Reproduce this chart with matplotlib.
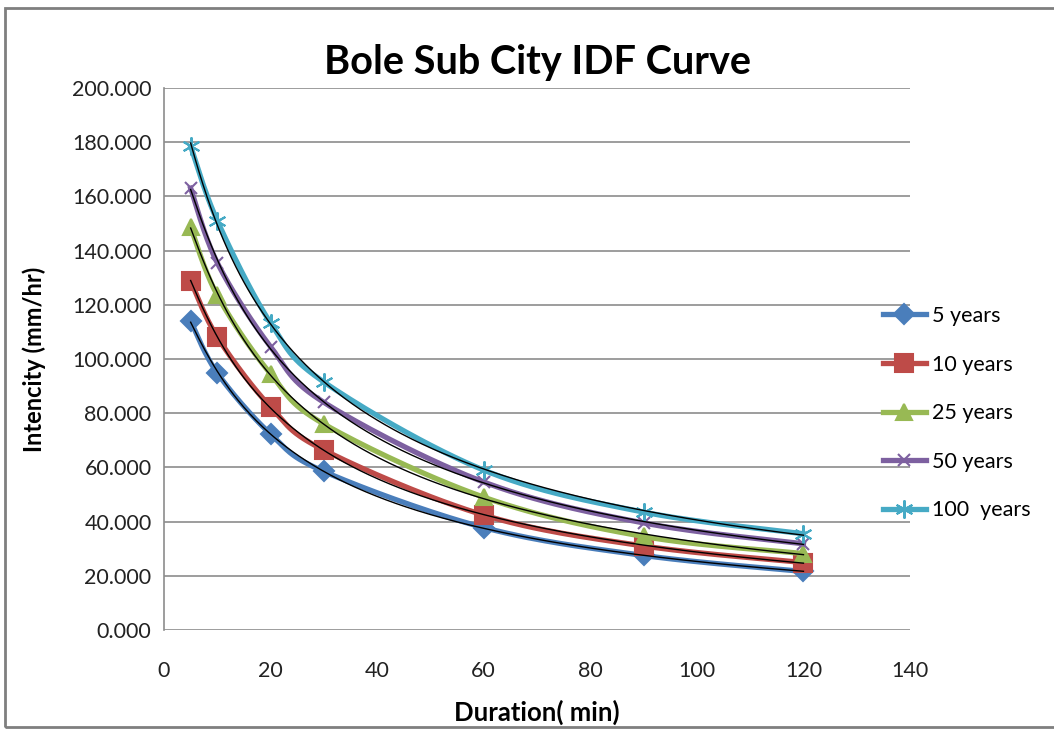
import numpy as np
import matplotlib
matplotlib.use('Agg')
import matplotlib.pyplot as plt
from matplotlib.patches import Rectangle

plt.rcParams['font.family'] = ['Lato', 'DejaVu Sans']

# Durations (min) and intensities (mm/hr)
durations = [5, 10, 20, 30, 60, 90, 120]
i_5yr = [114.0, 94.8, 72.3, 58.5, 37.8, 27.5, 21.6]
i_10yr = [128.8, 108.1, 82.3, 66.4, 42.4, 31.0, 24.9]
i_25yr = [148.7, 123.5, 94.5, 76.0, 49.0, 34.5, 28.2]
i_50yr = [163.0, 135.5, 104.5, 84.0, 54.6, 39.5, 31.8]
i_100yr = [178.5, 151.0, 113.3, 91.5, 59.0, 43.5, 35.5]

labels = ['5 years', '10 years', '25 years', '50 years', '100  years']
colors = ['#4A7EBB', '#BE4B48', '#98B954', '#7D60A0', '#46AAC5']
markers = ['D', 's', '^', 'x', (6, 2, 0)]
msizes = [10, 13, 12, 9, 13]

series = [i_5yr, i_10yr, i_25yr, i_50yr, i_100yr]


def smooth_line(xv, yv, n=30):
    """Excel-like smoothed line (Bezier segments through the points)."""
    p = np.column_stack([xv, yv]).astype(float)
    pts = []
    for i in range(len(p) - 1):
        p0 = p[i - 1] if i > 0 else p[i]
        p3 = p[i + 2] if i + 2 < len(p) else p[i + 1]
        b0 = p[i]
        b3 = p[i + 1]
        b1 = b0 + (p[i + 1] - p0) / 6
        b2 = b3 - (p3 - p[i]) / 6
        t = np.linspace(0, 1, n)[:, None]
        seg = ((1 - t) ** 3 * b0 + 3 * (1 - t) ** 2 * t * b1
               + 3 * (1 - t) * t ** 2 * b2 + t ** 3 * b3)
        pts.append(seg if i == 0 else seg[1:])
    pts = np.vstack(pts)
    return pts[:, 0], pts[:, 1]


fig = plt.figure(figsize=(10.54, 7.3), dpi=100)
ax = fig.add_axes([0.1556, 0.137, 0.7078, 0.7425])

x = np.array(durations, dtype=float)
xs = np.linspace(5, 120, 300)
for vals, lab, c, m, ms in zip(series, labels, colors, markers, msizes):
    sx, sy = smooth_line(x, vals)
    ax.plot(sx, sy, color=c, lw=3.8, zorder=2)
    ax.plot(x, vals, color=c, lw=0, marker=m, markersize=ms,
            markeredgewidth=1.5, zorder=2)
    # handle for legend
    ax.plot([], [], color=c, lw=3.8, marker=m, markersize=ms,
            markeredgewidth=1.5, label=lab)
    # trendline
    coef = np.polyfit(np.log(x), np.log(vals), 2)
    ax.plot(xs, np.exp(np.polyval(coef, np.log(xs))), color='black',
            lw=1.0, zorder=3)

ax.set_xlim(0, 140)
ax.set_ylim(0, 200)
ax.set_xticks(np.arange(0, 141, 20))
ax.set_yticks(np.arange(0, 201, 20))
ax.yaxis.set_major_formatter(matplotlib.ticker.FormatStrFormatter('%.3f'))
ax.tick_params(axis='both', length=0, labelsize=15.5, colors='#222222')
ax.tick_params(axis='x', pad=22)
ax.tick_params(axis='y', pad=9)
ax.grid(axis='y', color='#8C8C8C', lw=1.2)
ax.set_axisbelow(True)
for s in ['top', 'right', 'bottom']:
    ax.spines[s].set_visible(False)
ax.spines['left'].set_color('#8C8C8C')
ax.spines['left'].set_linewidth(1.2)

ax.set_xlabel('Duration( min)', fontsize=18.5, fontweight='bold', va='center')
ax.xaxis.set_label_coords(0.5, -0.151)
ax.set_ylabel('Intencity (mm/hr)', fontsize=17, fontweight='bold', va='center')
ax.yaxis.set_label_coords(-0.174, 0.5)
fig.text(0.51, 0.915, 'Bole Sub City IDF Curve', fontsize=28.5,
         fontweight='bold', ha='center', va='center')

leg = ax.legend(loc='center left', bbox_to_anchor=(0.952, 0.4), frameon=False,
                fontsize=15.5, handlelength=2.0, labelspacing=1.33,
                handletextpad=0.3, borderaxespad=0)

fig.patches.append(Rectangle((5 / 1054, 3 / 730), 1.2, 719 / 730,
                             transform=fig.transFigure, fill=False,
                             edgecolor='#7F7F7F', lw=2))

fig.savefig('out.png', dpi=100)
